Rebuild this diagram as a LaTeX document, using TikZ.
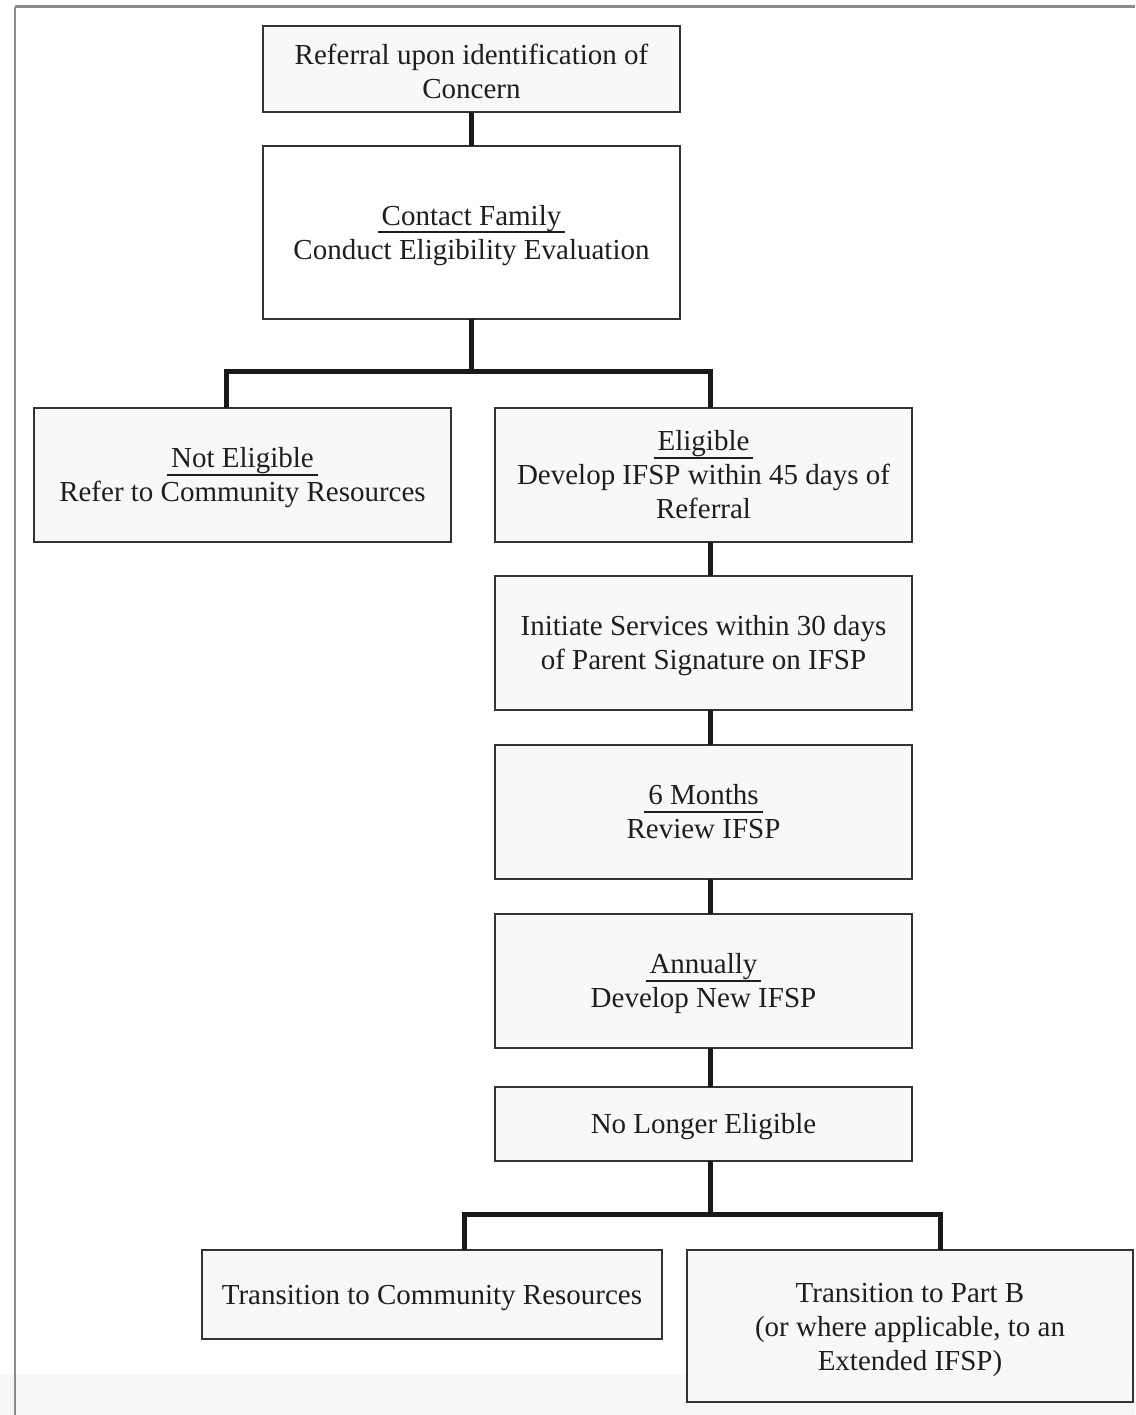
\documentclass[tikz,border=0pt]{standalone}
\usepackage{fontspec}
\setmainfont{Liberation Serif}
\definecolor{boxfill}{HTML}{F8F8F8}
\definecolor{boxline}{HTML}{333333}
\definecolor{txt}{HTML}{1E1E1E}
\definecolor{frameline}{HTML}{8C8C8C}
\definecolor{band}{HTML}{F7F7F7}
\newcommand{\ulx}[1]{\setbox0\hbox{\kern4pt#1\kern4pt}\leavevmode\rlap{\vrule height -6.2pt depth 8pt width \wd0}\box0}
\newcommand{\fs}{\rule{0pt}{25.5pt}}
\tikzset{
  stepbox/.style={draw=boxline, line width=2.2pt, fill=boxfill, text=txt,
    inner sep=0pt, outer sep=0pt, align=center,
    font=\fontsize{29}{34}\selectfont},
  conn/.style={draw=black!90, line width=5pt},
}
\begin{document}
\begin{tikzpicture}[x=1pt,y=-1pt]
\useasboundingbox (0,0) rectangle (1135,1415);
% background band and frame
\fill[band] (0,1375) rectangle (1135,1415);
\draw[frameline, line width=3pt] (15,7) -- (1135,7);
\draw[frameline, line width=2.2pt] (15,7) -- (15,1415);

% nodes
\node[stepbox, minimum width=417pt, minimum height=86pt] (ref) at (471.5,69)
  {\fs Referral upon identification of\\Concern};
\node[stepbox, fill=white, minimum width=417pt, minimum height=173pt] (contact) at (471.5,232.5)
  {\fs\ulx{Contact Family}\\Conduct Eligibility Evaluation};
\node[stepbox, minimum width=417pt, minimum height=134pt] (noteli) at (242.5,475)
  {\fs\ulx{Not Eligible}\\Refer to Community Resources};
\node[stepbox, minimum width=417pt, minimum height=134pt] (elig) at (703.5,475)
  {\ulx{Eligible}\\Develop IFSP within 45 days of\\Referral};
\node[stepbox, minimum width=417pt, minimum height=134pt] (init) at (703.5,643)
  {\fs Initiate Services within 30 days\\of Parent Signature on IFSP};
\node[stepbox, minimum width=417pt, minimum height=134pt] (six) at (703.5,812)
  {\ulx{6 Months}\\Review IFSP};
\node[stepbox, minimum width=417pt, minimum height=134pt] (annual) at (703.5,981)
  {\fs\ulx{Annually}\\Develop New IFSP};
\node[stepbox, minimum width=417pt, minimum height=74pt] (nolong) at (703.5,1124)
  {\fs No Longer Eligible};
\node[stepbox, minimum width=460pt, minimum height=89pt] (trcomm) at (432,1294.5)
  {\fs Transition to Community Resources};
\node[stepbox, minimum width=446pt, minimum height=152pt] (partb) at (910,1326)
  {\rule{0pt}{28pt}Transition to Part B\\(or where applicable, to an\\Extended IFSP)};

% fork coordinates
\coordinate (fl) at (226,371);
\coordinate (fr) at (710,371);
\coordinate (gl) at (464,1214);
\coordinate (gr) at (940,1214);

% connectors
\draw[conn] (ref.south) -- (contact.north);
\draw[conn] (contact.south) -- (contact.south |- fl);
\draw[conn] (noteli.north -| fl) -- (fl) -- (fr) -- (elig.north -| fr);
\draw[conn] (elig.south -| fr) -- (init.north -| fr);
\draw[conn] (init.south -| fr) -- (six.north -| fr);
\draw[conn] (six.south -| fr) -- (annual.north -| fr);
\draw[conn] (annual.south -| fr) -- (nolong.north -| fr);
\draw[conn] (nolong.south -| fr) -- (fr |- gl);
\draw[conn] (trcomm.north -| gl) -- (gl) -- (gr) -- (partb.north -| gr);
\end{tikzpicture}
\end{document}
